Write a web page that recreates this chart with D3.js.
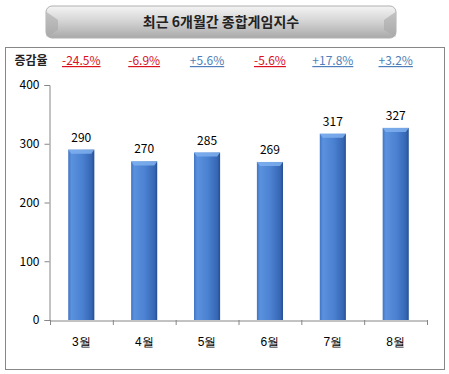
<!DOCTYPE html>
<html><head><meta charset="utf-8">
<script src="https://cdn.jsdelivr.net/npm/d3@7"></script>
<style>
html,body{margin:0;padding:0;background:#fff;}
svg{display:block;font-family:"Noto Sans CJK KR","Noto Sans",sans-serif;}
</style></head>
<body>
<svg id="c" width="449" height="374"></svg>
<script>
const categories = ["3월","4월","5월","6월","7월","8월"];
const values = [290,270,285,269,317,327];
const changes = ["-24.5%","-6.9%","+5.6%","-5.6%","+17.8%","+3.2%"];
const yTicks = [0,100,200,300,400];
const title = "최근 6개월간 종합게임지수";
const changeLabel = "증감율";

const svg = d3.select("#c");
const defs = svg.append("defs");

// title gradient
const tg = defs.append("linearGradient").attr("id","tg").attr("x1",0).attr("y1",0).attr("x2",0).attr("y2",1);
tg.append("stop").attr("offset","0%").attr("stop-color","#f4f4f4");
tg.append("stop").attr("offset","45%").attr("stop-color","#d6d6d6");
tg.append("stop").attr("offset","100%").attr("stop-color","#a9a9a9");

// bar gradient
const bg = defs.append("linearGradient").attr("id","bg").attr("x1",0).attr("y1",0).attr("x2",1).attr("y2",0);
bg.append("stop").attr("offset","0%").attr("stop-color","#3f74c2");
bg.append("stop").attr("offset","12%").attr("stop-color","#5b92de");
bg.append("stop").attr("offset","55%").attr("stop-color","#4a80d0");
bg.append("stop").attr("offset","90%").attr("stop-color","#3566b3");
bg.append("stop").attr("offset","100%").attr("stop-color","#244d8e");

// title box
svg.append("rect").attr("x",46).attr("y",6).attr("width",350).attr("height",32).attr("rx",6)
  .attr("fill","url(#tg)").attr("stroke","#b0b0b0").attr("stroke-width",1);
svg.append("path").attr("d","M46.5,12 L58,20 L58,30 L46.5,37 Z").attr("fill","#a8a8a8").attr("opacity",0.6);
svg.append("path").attr("d","M395.5,12 L384,20 L384,30 L395.5,37 Z").attr("fill","#a8a8a8").attr("opacity",0.6);
svg.append("text").attr("x",221).attr("y",27).attr("text-anchor","middle")
  .attr("font-size",14).attr("font-weight","bold").attr("fill","#222").text(title);

// frame
svg.append("rect").attr("x",5.5).attr("y",47.5).attr("width",439).attr("height",322)
  .attr("fill","#fff").attr("stroke","#878787").attr("stroke-width",1);

const x = d3.scaleBand().domain(categories).range([50,427]).paddingInner(0.585).paddingOuter(0.29);
const y = d3.scaleLinear().domain([0,400]).range([320,85]);

const gy = svg.append("g").attr("transform","translate(49.5,0)")
  .call(d3.axisLeft(y).tickValues(yTicks).tickSize(5).tickPadding(5));
gy.select(".domain").attr("stroke","#868686");
gy.selectAll(".tick line").attr("stroke","#868686");
gy.selectAll(".tick text").attr("font-size",12).attr("fill","#000").attr("font-family","Noto Sans CJK KR, sans-serif");

const xTickScale = d3.scaleBand().domain(categories).range([50,427]);
const gx = svg.append("g").attr("transform","translate(0,320.5)")
  .call(d3.axisBottom(xTickScale).tickSize(0).tickPadding(17));
gx.select(".domain").attr("stroke","#868686");
gx.selectAll(".tick text").attr("font-size",12).attr("fill","#000");
// category boundary ticks
const bounds = categories.map(c=>xTickScale(c)).concat([427]);
svg.append("g").selectAll("line").data(bounds).join("line")
  .attr("x1",d=>d+0.5).attr("x2",d=>d+0.5).attr("y1",320).attr("y2",325).attr("stroke","#868686");

// bars
const bars = svg.append("g").selectAll("g").data(values).join("g");
bars.append("rect")
  .attr("x",(d,i)=>x(categories[i])).attr("y",d=>y(d))
  .attr("width",x.bandwidth()).attr("height",d=>320-y(d))
  .attr("fill","url(#bg)");
// top bevel
bars.append("path")
  .attr("d",(d,i)=>{const x0=x(categories[i]),w=x.bandwidth(),t=y(d);
    return `M${x0},${t} L${x0+w},${t} L${x0+w-3},${t+4} L${x0+3},${t+4} Z`;})
  .attr("fill","#7fb0ee").attr("opacity",0.85);
bars.append("text")
  .attr("x",(d,i)=>x(categories[i])+x.bandwidth()/2).attr("y",d=>y(d)-8)
  .attr("text-anchor","middle").attr("font-size",12).attr("fill","#000").text(d=>d);

// change labels
svg.append("text").attr("x",31).attr("y",65).attr("text-anchor","middle")
  .attr("font-size",12).attr("font-weight","bold").attr("fill","#222").text(changeLabel);
svg.append("g").selectAll("text").data(changes).join("text")
  .attr("x",(d,i)=>x(categories[i])+x.bandwidth()/2).attr("y",65)
  .attr("text-anchor","middle").attr("font-size",12)
  .attr("text-decoration","underline")
  .attr("fill",d=>d[0]==="-"?"#d9101e":"#4f7fb8").text(d=>d);
</script>
</body></html>
